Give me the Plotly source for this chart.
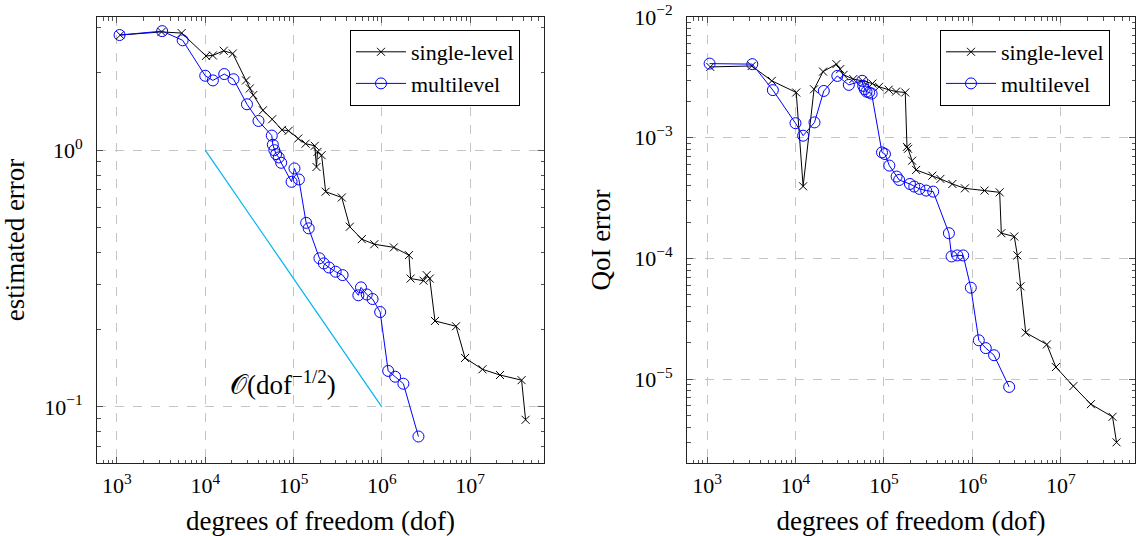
import plotly.graph_objects as go

# ---------------- data ----------------
dof_single = [1090, 3200, 5400, 10200, 12200, 16200, 20500, 29000, 32000, 35000,
              45000, 57300, 74000, 88000, 113000, 137000, 174000, 182000, 187000, 208000,
              231000, 352000, 434000, 593000, 822000, 1.37e6, 2.03e6, 2.12e6, 2.97e6, 3.22e6,
              3.49e6, 4.0e6, 6.93e6, 8.77e6, 1.38e7, 2.18e7, 3.83e7, 4.25e7]
est_single = [2.81, 2.89, 2.86, 2.33, 2.34, 2.44, 2.38, 1.87, 1.74, 1.64,
              1.43, 1.32, 1.20, 1.19, 1.11, 1.06, 1.04, 0.86, 0.985, 0.956,
              0.689, 0.654, 0.503, 0.45, 0.43, 0.418, 0.39, 0.316, 0.31, 0.326,
              0.316, 0.216, 0.206, 0.155, 0.14, 0.133, 0.127, 0.089]
qoi_single = [3.86e-3, 3.93e-3, 2.96e-3, 2.37e-3, 3.96e-4, 2.52e-3, 3.53e-3, 4.07e-3, 3.70e-3, 3.32e-3,
              3.06e-3, 2.96e-3, 2.81e-3, 2.64e-3, 2.50e-3, 2.41e-3, 2.37e-3, 8.4e-4, 8.1e-4, 6.45e-4,
              5.41e-4, 4.85e-4, 4.56e-4, 4.14e-4, 3.81e-4, 3.65e-4, 3.53e-4, 1.62e-4, 1.52e-4, 1.06e-4,
              5.88e-5, 2.43e-5, 1.94e-5, 1.26e-5, 8.76e-6, 6.21e-6, 4.88e-6, 3.0e-6]

dof_multi = [1070, 3250, 5550, 10000, 12200, 16400, 20900, 29700, 40100, 56700,
             58300, 60600, 63500, 68000, 72500, 95000, 102500, 115000, 139000, 148500,
             196500, 220000, 252000, 300000, 360000, 542000, 581000, 675000, 786000, 958000,
             1.18e6, 1.415e6, 1.755e6, 2.6e6]
est_multi = [2.81, 2.91, 2.68, 1.95, 1.87, 1.98, 1.89, 1.51, 1.30, 1.14,
             1.05, 1.0, 0.965, 0.937, 0.893, 0.753, 0.849, 0.769, 0.521, 0.496,
             0.379, 0.362, 0.349, 0.336, 0.326, 0.272, 0.292, 0.274, 0.263, 0.234,
             0.138, 0.131, 0.123, 0.0766]
qoi_multi = [4.11e-3, 4.07e-3, 2.48e-3, 1.32e-3, 1.04e-3, 1.34e-3, 2.44e-3, 3.25e-3, 2.74e-3, 2.96e-3,
             2.69e-3, 2.52e-3, 2.41e-3, 2.37e-3, 2.32e-3, 7.56e-4, 7.33e-4, 5.88e-4, 4.77e-4, 4.47e-4,
             4.14e-4, 3.94e-4, 3.77e-4, 3.65e-4, 3.58e-4, 1.62e-4, 1.04e-4, 1.06e-4, 1.06e-4, 5.73e-5,
             2.10e-5, 1.81e-5, 1.58e-5, 8.63e-6]

ref_dof = [1e4, 1e6]
ref_err = [1.0, 0.1]

x_tickvals = [1e3, 1e4, 1e5, 1e6, 1e7]
x_ticktext = ["10<sup>3</sup>", "10<sup>4</sup>", "10<sup>5</sup>", "10<sup>6</sup>", "10<sup>7</sup>"]
y1_tickvals = [0.1, 1]
y1_ticktext = ["10<sup>−1</sup>", "10<sup>0</sup>"]
y2_tickvals = [1e-5, 1e-4, 1e-3, 1e-2]
y2_ticktext = ["10<sup>−5</sup>", "10<sup>−4</sup>", "10<sup>−3</sup>", "10<sup>−2</sup>"]

FONT = "Liberation Serif"
BLACK = "#000000"
BLUE = "#0000ff"
CYAN = "#00b4f0"

fig = go.Figure()

def add_pair(xa, ya, ys, ym, legend):
    fig.add_trace(go.Scatter(x=dof_single, y=ys, mode="lines+markers", name="single-level",
                             xaxis=xa, yaxis=ya, legend=legend,
                             line=dict(color=BLACK, width=1),
                             marker=dict(symbol="x-thin", size=8, line=dict(color=BLACK, width=1))))
    fig.add_trace(go.Scatter(x=dof_multi, y=ym, mode="lines+markers", name="multilevel",
                             xaxis=xa, yaxis=ya, legend=legend,
                             line=dict(color=BLUE, width=1),
                             marker=dict(symbol="circle-open", size=11, color=BLUE, line=dict(color=BLUE, width=1))))

add_pair("x", "y", est_single, est_multi, "legend")
fig.add_trace(go.Scatter(x=ref_dof, y=ref_err, mode="lines", showlegend=False,
                         xaxis="x", yaxis="y", line=dict(color=CYAN, width=1.2)))
add_pair("x2", "y2", qoi_single, qoi_multi, "legend2")

minor_vals = [m * 10 ** k for k in range(-7, 9) for m in range(2, 10)]

def axis(domain, rng, tickvals, ticktext, title, anchor, standoff):
    return dict(type="log", domain=domain, range=rng, anchor=anchor, automargin=False,
                tickmode="array", tickvals=tickvals, ticktext=ticktext,
                showline=True, linecolor="#222", linewidth=1, mirror="allticks",
                ticks="inside", ticklen=6, tickwidth=1, tickcolor="#555",
                ticklabelstandoff=standoff,
                showgrid=True, gridcolor="#c4c4c4", griddash="dash", gridwidth=1,
                zeroline=False,
                tickfont=dict(family=FONT, size=22, color="black"),
                title=dict(text=title, font=dict(family=FONT, size=27, color="black")),
                minor=dict(tickmode="array", tickvals=minor_vals, ticks="inside", ticklen=3.5,
                           tickwidth=1, tickcolor="#555", showgrid=False))

legend_style = dict(yanchor="top", xanchor="left", bordercolor="black", borderwidth=1,
                    bgcolor="white", itemwidth=50, font=dict(family=FONT, size=22, color="black"))

fig.update_layout(
    width=1136, height=536,
    margin=dict(l=0, r=0, t=0, b=0, autoexpand=False),
    paper_bgcolor="white", plot_bgcolor="white",
    xaxis=axis([97 / 1136, 544 / 1136], [2.774, 7.837], x_tickvals, x_ticktext, "degrees of freedom (dof)", "y", 3),
    yaxis=axis([1 - 463 / 536, 1 - 17 / 536], [-1.219, 0.519], y1_tickvals, y1_ticktext, "estimated error", "x", 9),
    xaxis2=axis([687 / 1136, 1135 / 1136], [2.774, 7.837], x_tickvals, x_ticktext, "degrees of freedom (dof)", "y2", 3),
    yaxis2=axis([1 - 463 / 536, 1 - 17 / 536], [-5.694, -2.0], y2_tickvals, y2_ticktext, "QoI error", "x2", 9),
    legend=dict(x=350 / 1136, y=1 - 30 / 536, **legend_style),
    legend2=dict(x=940 / 1136, y=1 - 30 / 536, **legend_style),
    annotations=[dict(x=4.886, y=-0.908, xref="x", yref="y", showarrow=False,
                      text="𝒪(dof<sup>−1/2</sup>)",
                      font=dict(family=FONT, size=27, color="black"))],
)

fig.write_html("out.html")
